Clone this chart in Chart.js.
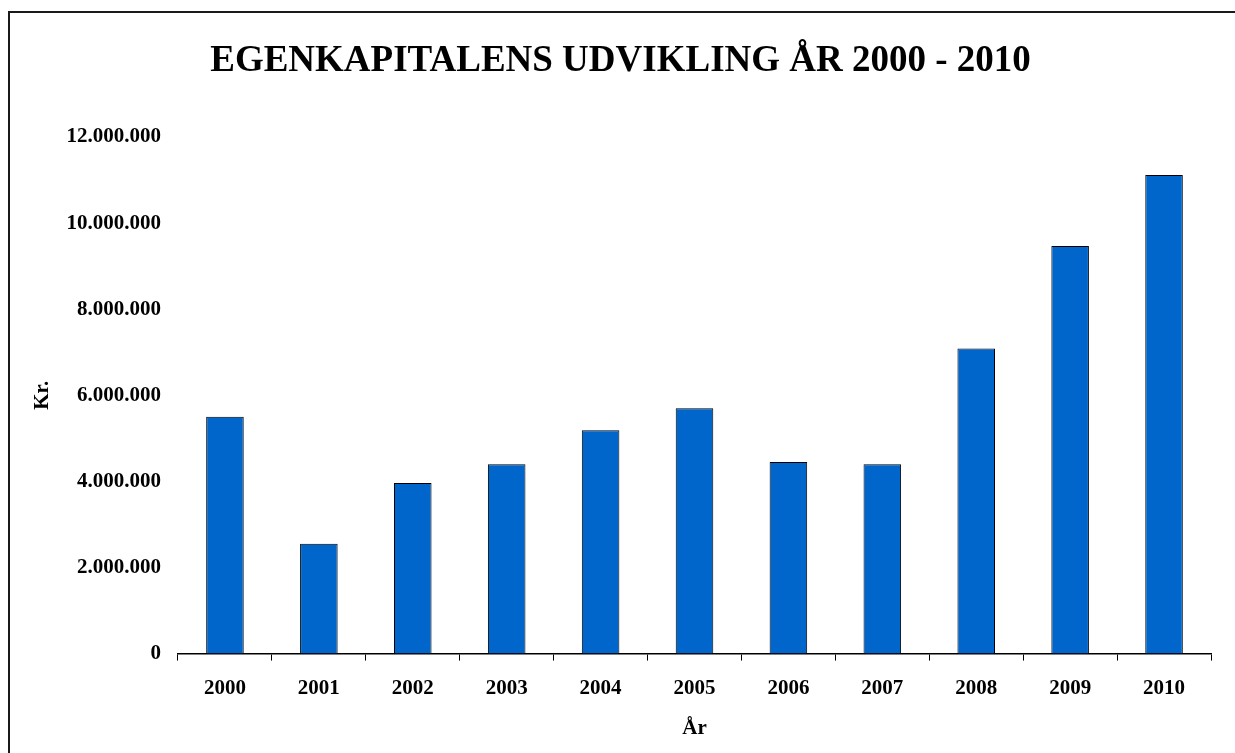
<!DOCTYPE html>
<html>
<head>
<meta charset="utf-8">
<script src="https://cdn.jsdelivr.net/npm/chart.js@4.4.0/dist/chart.umd.min.js"></script>
<style>
  body { margin: 0; background: #fff; overflow: hidden; }
  #frame { position: absolute; left: 8px; top: 11px; width: 1400px; height: 900px;
           border-left: 2px solid #1a1a1a; border-top: 2px solid #1a1a1a; }
  #chart { position: absolute; left: 0; top: 0; }
</style>
</head>
<body>
<div id="frame"></div>
<canvas id="chart" width="1235" height="753"></canvas>
<script>
// data
var years = ['2000', '2001', '2002', '2003', '2004', '2005', '2006', '2007', '2008', '2009', '2010'];
var equity = [5500000, 2550000, 3960000, 4400000, 5190000, 5700000, 4450000, 4400000, 7090000, 9470000, 11120000];
var yTicks = [0, 2000000, 4000000, 6000000, 8000000, 10000000, 12000000];

var serif = "'Liberation Serif', 'Times New Roman', serif";

// 12000000 -> 12.000.000
var fmt = function(v) {
	return String(v).replace(/\B(?=(\d{3})+(?!\d))/g, '.');
};

new Chart(document.getElementById('chart'), {
	type: 'bar',
	data: {
		labels: years,
		datasets: [{
			data: equity,
			backgroundColor: '#0066cc',
			borderColor: '#000',
			borderWidth: 1,
			barPercentage: 0.4,
			categoryPercentage: 1
		}]
	},
	options: {
		responsive: false,
		animation: false,
		devicePixelRatio: 1,
		layout: { padding: { left: 30, right: 24, top: 12, bottom: 10 } },
		plugins: {
			legend: { display: false },
			tooltip: { enabled: false },
			title: {
				display: true,
				text: 'EGENKAPITALENS UDVIKLING ÅR 2000 - 2010',
				color: '#000',
				font: { family: serif, size: 37, weight: 'bold' },
				padding: { top: 27, bottom: 53.6 }
			}
		},
		scales: {
			x: {
				grid: { display: true, drawOnChartArea: false, drawTicks: true, tickLength: 7, color: '#000', offset: true },
				border: { display: true, color: '#000', width: 1.5 },
				ticks: { color: '#000', padding: 15, maxRotation: 0, font: { family: serif, size: 21, weight: 'bold' } },
				title: { display: true, text: 'År', color: '#000', padding: { top: 0, bottom: 2 },
					font: { family: serif, size: 21, weight: 'bold' } }
			},
			y: {
				min: 0,
				max: 12000000,
				afterBuildTicks: function(scale) {
					scale.ticks = yTicks.map(function(v) { return { value: v }; });
				},
				afterFit: function(scale) { scale.width = 148; },
				grid: { display: false, drawTicks: false },
				border: { display: false },
				ticks: { color: '#000', padding: 17, callback: function(v) { return fmt(v); },
					font: { family: serif, size: 21, weight: 'bold' } },
				title: { display: true, text: 'Kr.', color: '#000', padding: 0,
					font: { family: serif, size: 21, weight: 'bold' } }
			}
		}
	}
});
</script>
</body>
</html>
